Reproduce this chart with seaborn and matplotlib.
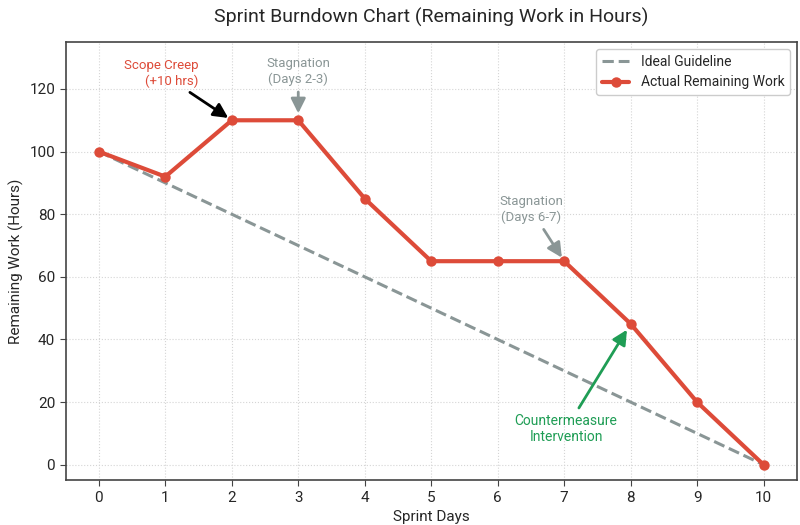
import numpy as np
import pandas as pd
import matplotlib
matplotlib.use("Agg")
import matplotlib.pyplot as plt
import seaborn as sns

# Sprint data
days = [0, 1, 2, 3, 4, 5, 6, 7, 8, 9, 10]
actual_remaining = [100, 92, 110, 110, 85, 65, 65, 65, 45, 20, 0]
ideal_remaining = [100, 90, 80, 70, 60, 50, 40, 30, 20, 10, 0]
y_ticks = [0, 20, 40, 60, 80, 100, 120]

RED = "#dd4b39"
GRAY = "#8a9696"
GREEN = "#1f9d55"

sns.set_style("whitegrid", {
    "grid.linestyle": ":",
    "grid.color": "#d5d5d5",
    "axes.edgecolor": "#444444",
})
plt.rcParams["font.family"] = ["Roboto", "DejaVu Sans"]

df = pd.DataFrame({"day": days, "actual": actual_remaining, "ideal": ideal_remaining})

fig, ax = plt.subplots(figsize=(8, 5.25), dpi=100)

sns.lineplot(data=df, x="day", y="ideal", ax=ax, color=GRAY, linestyle="--",
             linewidth=2.2, label="Ideal Guideline")
sns.lineplot(data=df, x="day", y="actual", ax=ax, color=RED, linewidth=3,
             marker="o", markersize=7.5, markeredgewidth=0, label="Actual Remaining Work")

ax.set_xlim(-0.5, 10.5)
ax.set_ylim(-5, 135)
ax.set_xticks(days)
ax.set_yticks(y_ticks)
ax.tick_params(axis="both", labelsize=11, length=4, color="#444444", left=True, bottom=True)
for s in ax.spines.values():
    s.set_linewidth(1.2)
    s.set_color("#444444")
ax.grid(True, linestyle=":", color="#d5d5d5", linewidth=0.8)

ax.set_title("Sprint Burndown Chart (Remaining Work in Hours)", fontsize=14, pad=14)
ax.set_xlabel("Sprint Days", fontsize=11)
ax.set_ylabel("Remaining Work (Hours)", fontsize=11)

# annotations
ax.annotate("Scope Creep\n(+10 hrs)", xy=(2, 110), xytext=(1.5, 125),
            ha="right", va="center", multialignment="right", fontsize=9.5, color=RED,
            arrowprops=dict(arrowstyle="-|>", color="black", lw=2, mutation_scale=22,
                            shrinkA=2, shrinkB=3))
ax.annotate("Stagnation\n(Days 2-3)", xy=(3, 110), xytext=(3, 125.5),
            ha="center", va="center", fontsize=9.5, color=GRAY,
            arrowprops=dict(arrowstyle="-|>", color=GRAY, lw=2, mutation_scale=22,
                            shrinkA=2, shrinkB=5))
ax.annotate("Stagnation\n(Days 6-7)", xy=(7, 65), xytext=(6.5, 81.5),
            ha="center", va="center", fontsize=9.5, color=GRAY,
            arrowprops=dict(arrowstyle="-|>", color=GRAY, lw=2, mutation_scale=22,
                            shrinkA=2, shrinkB=3))
ax.annotate("Countermeasure\nIntervention", xy=(8, 45), xytext=(7.03, 11.5),
            ha="center", va="center", fontsize=10, color=GREEN,
            arrowprops=dict(arrowstyle="-|>", color=GREEN, lw=2, mutation_scale=22,
                            shrinkA=2, shrinkB=5))

leg = ax.legend(loc="upper right", fontsize=10, frameon=True, fancybox=True,
                framealpha=1, edgecolor="#cccccc")

fig.subplots_adjust(left=0.082, right=0.996, top=0.92, bottom=0.085)
fig.savefig("out.png", dpi=100)
